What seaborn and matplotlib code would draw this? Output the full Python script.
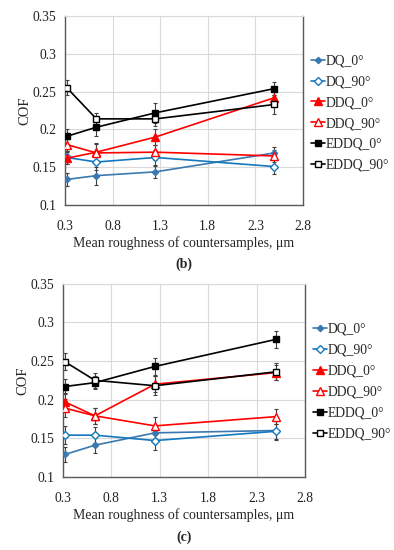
import numpy as np
import pandas as pd
import matplotlib
matplotlib.use("Agg")
import matplotlib.pyplot as plt
import seaborn as sns

sns.set_style("white")
plt.rcParams["font.family"] = ["Liberation Serif", "DejaVu Serif"]

roughness = [0.32, 0.63, 1.25, 2.5]
series_names = ["DQ_0°", "DQ_90°", "DDQ_0°", "DDQ_90°", "EDDQ_0°", "EDDQ_90°"]

# panel (b)
cof_b = {
    "DQ_0°":    [0.134, 0.139, 0.144, 0.169],
    "DQ_90°":   [0.163, 0.157, 0.163, 0.151],
    "DDQ_0°":   [0.162, 0.170, 0.190, 0.242],
    "DDQ_90°":  [0.180, 0.169, 0.170, 0.165],
    "EDDQ_0°":  [0.191, 0.203, 0.222, 0.254],
    "EDDQ_90°": [0.255, 0.214, 0.214, 0.233],
}
err_b = {
    "DQ_0°":    [0.009, 0.012, 0.008, 0.008],
    "DQ_90°":   [0.008, 0.010, 0.010, 0.010],
    "DDQ_0°":   [0.008, 0.012, 0.010, 0.010],
    "DDQ_90°":  [0.008, 0.012, 0.010, 0.008],
    "EDDQ_0°":  [0.010, 0.011, 0.013, 0.009],
    "EDDQ_90°": [0.010, 0.008, 0.010, 0.012],
}

# panel (c)
cof_c = {
    "DQ_0°":    [0.129, 0.141, 0.157, 0.160],
    "DQ_90°":   [0.154, 0.154, 0.147, 0.159],
    "DDQ_0°":   [0.197, 0.179, 0.220, 0.235],
    "DDQ_90°":  [0.189, 0.179, 0.166, 0.178],
    "EDDQ_0°":  [0.217, 0.222, 0.243, 0.278],
    "EDDQ_90°": [0.249, 0.225, 0.218, 0.236],
}
err_c = {
    "DQ_0°":    [0.010, 0.010, 0.010, 0.012],
    "DQ_90°":   [0.012, 0.010, 0.012, 0.010],
    "DDQ_0°":   [0.012, 0.010, 0.010, 0.010],
    "DDQ_90°":  [0.012, 0.010, 0.012, 0.010],
    "EDDQ_0°":  [0.010, 0.008, 0.011, 0.011],
    "EDDQ_90°": [0.011, 0.010, 0.012, 0.011],
}

x_ticks = [0.3, 0.8, 1.3, 1.8, 2.3, 2.8]
y_ticks = [0.1, 0.15, 0.2, 0.25, 0.3, 0.35]
y_labels = ["0.1", "0.15", "0.2", "0.25", "0.3", "0.35"]

styles = {
    "DQ_0°":    dict(color="#3A78B0", marker="D", ms=3.2, mfc="#3A78B0"),
    "DQ_90°":   dict(color="#1478BE", marker="D", ms=4.2, mfc="white"),
    "DDQ_0°":   dict(color="#FF0000", marker="^", ms=5.5, mfc="#FF0000"),
    "DDQ_90°":  dict(color="#FF0000", marker="^", ms=5.5, mfc="white"),
    "EDDQ_0°":  dict(color="#000000", marker="s", ms=4.5, mfc="#000000"),
    "EDDQ_90°": dict(color="#000000", marker="s", ms=4.5, mfc="white"),
}


def draw_panel(ax, cof, err, tag):
    for name in series_names:
        st = styles[name]
        ax.errorbar(roughness, cof[name], yerr=err[name], fmt="none",
                    ecolor="#404040", elinewidth=0.8, capsize=1.5,
                    capthick=0.8, zorder=2)
        df = pd.DataFrame({"x": roughness, "y": cof[name]})
        sns.lineplot(data=df, x="x", y="y", ax=ax, color=st["color"],
                     marker=st["marker"], markersize=st["ms"],
                     markerfacecolor=st["mfc"], markeredgecolor=st["color"],
                     markeredgewidth=1.0, linewidth=1.2, label=name, zorder=3)
    ax.set_xlim(0.3, 2.8)
    ax.set_ylim(0.1, 0.35)
    ax.set_xticks(x_ticks)
    ax.set_xticklabels([f"{t:.1f}" for t in x_ticks])
    ax.set_yticks(y_ticks)
    ax.set_yticklabels(y_labels)
    ax.grid(True, color="#D9D9D9", linewidth=0.8)
    ax.tick_params(length=0, labelsize=9.8, colors="#222222")
    ax.tick_params(axis="x", pad=11)
    ax.tick_params(axis="y", pad=6)
    for side in ["left", "bottom", "right"]:
        ax.spines[side].set_color("#595959")
        ax.spines[side].set_linewidth(1.0)
    ax.spines["top"].set_color("#D9D9D9")
    ax.set_xlabel("Mean roughness of countersamples, μm", fontsize=10, labelpad=2)
    ax.set_ylabel("COF", fontsize=10.5, labelpad=1)
    ax.legend(loc="upper left", bbox_to_anchor=(1.0, 0.84), frameon=False,
              fontsize=9.8, handlelength=1.0, handletextpad=0.1,
              labelspacing=0.58, borderaxespad=0.2)
    ax.text(0.5, -0.315, tag, transform=ax.transAxes, ha="center", va="center",
            fontsize=10, fontweight="bold")


fig = plt.figure(figsize=(3.94, 5.5), dpi=100)
ax_b = fig.add_axes([0.165, 0.627, 0.604, 0.344])
ax_c = fig.add_axes([0.160, 0.133, 0.614, 0.351])

draw_panel(ax_b, cof_b, err_b, "(b)")
draw_panel(ax_c, cof_c, err_c, "(c)")

fig.savefig("out.png", dpi=100)
